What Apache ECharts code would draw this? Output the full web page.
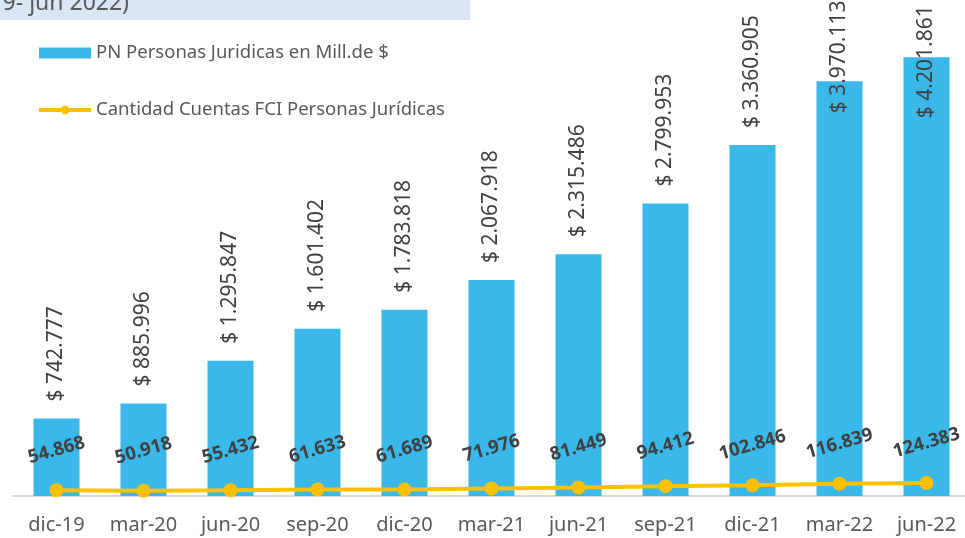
<!DOCTYPE html>
<html>
<head>
<meta charset="utf-8">
<script src="https://cdn.jsdelivr.net/npm/echarts@6/dist/echarts.min.js"></script>
<style>
  html, body { margin: 0; padding: 0; background: #fff; overflow: hidden; }
  /* a bit wider than the window: the last category runs off the right edge */
  #chart { width: 975px; height: 538px; }
</style>
</head>
<body>
<div id="chart"></div>
<script>
// trimestres
var categories = ['dic-19', 'mar-20', 'jun-20', 'sep-20', 'dic-20', 'mar-21', 'jun-21', 'sep-21', 'dic-21', 'mar-22', 'jun-22'];
// PN en millones de $
var patrimonio = [742777, 885996, 1295847, 1601402, 1783818, 2067918, 2315486, 2799953, 3360905, 3970113, 4201861];
// cantidad de cuentas
var cuentas = [54868, 50918, 55432, 61633, 61689, 71976, 81449, 94412, 102846, 116839, 124383];

var font = '"Noto Sans", sans-serif';

function fmt(v) {
  return String(v).replace(/\B(?=(\d{3})+(?!\d))/g, '.');
}

// the last two labels don't fit above the bar, push them down into it
var barData = patrimonio.map(function (v, i) {
  if (i === 9) return { value: v, label: { position: 'insideTop', distance: 32 } };
  if (i === 10) return { value: v, label: { position: 'insideTop', distance: 61 } };
  return v;
});

var chart = echarts.init(document.getElementById('chart'));
chart.setOption({
  backgroundColor: '#fff',
  animation: false,
  graphic: [
    { type: 'rect', shape: { x: 0, y: 0, width: 470, height: 20 }, style: { fill: '#d9e6f3' } },
    { type: 'text', x: 129, y: 3, style: { text: '(dic 2019- jun 2022)', font: '23px ' + font, fill: '#595959', align: 'right', verticalAlign: 'middle' } }
  ],
  legend: {
    orient: 'vertical',
    left: 32,
    top: 38,
    itemWidth: 52,
    itemHeight: 11,
    itemGap: 37,
    lineStyle: { width: 4 },
    textStyle: { fontFamily: font, fontSize: 18.5, color: '#595959', lineHeight: 20 },
    data: [
      { name: 'PN Personas Juridicas en Mill.de $', icon: 'rect' },
      { name: 'Cantidad Cuentas FCI Personas Jurídicas' }
    ]
  },
  grid: { left: 13, width: 957, top: 26, bottom: 42 },
  xAxis: {
    type: 'category',
    data: categories,
    axisLine: { lineStyle: { color: '#d9d9d9', width: 2 } },
    axisTick: { length: 6, lineStyle: { color: '#d9d9d9', width: 2 } },
    axisLabel: { interval: 0, fontFamily: font, fontSize: 20, color: '#595959', margin: 19 }
  },
  yAxis: { type: 'value', min: 0, max: 4500000, show: false },
  series: [
    {
      name: 'PN Personas Juridicas en Mill.de $',
      type: 'bar',
      barWidth: 46,
      data: barData,
      itemStyle: { color: '#3ab8e9' },
      label: {
        show: true,
        position: 'top',
        distance: 17,
        rotate: 90,
        align: 'left',
        verticalAlign: 'middle',
        fontFamily: font,
        fontSize: 21,
        color: '#404040',
        formatter: function (p) { return '$ ' + fmt(p.value); }
      }
    },
    {
      name: 'Cantidad Cuentas FCI Personas Jurídicas',
      type: 'line',
      data: cuentas,
      symbol: 'circle',
      symbolSize: 14,
      lineStyle: { color: '#ffc000', width: 4 },
      itemStyle: { color: '#ffc000' },
      label: {
        show: true,
        position: 'top',
        distance: 33,
        rotate: 16,
        align: 'center',
        verticalAlign: 'middle',
        fontFamily: font,
        fontSize: 18.5,
        fontWeight: 'bold',
        color: '#404040',
        formatter: function (p) { return fmt(p.value); }
      }
    }
  ]
});
</script>
</body>
</html>
